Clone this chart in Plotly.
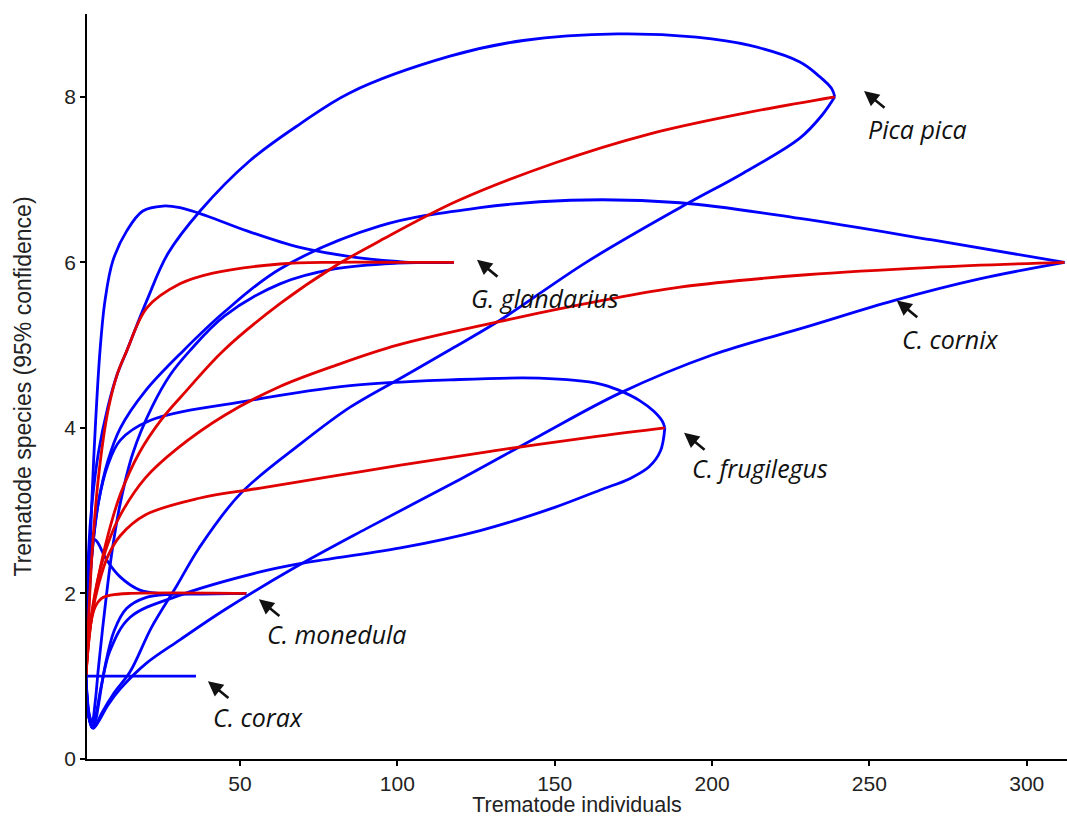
import plotly.graph_objects as go

# ---------------- data ----------------
# Pica pica
pica_red_x = [1, 2, 3, 5, 8, 12, 18, 25, 33, 44.6, 62.7, 80, 94.5, 119, 150, 180, 210, 239]
pica_red_y = [1, 1.45, 1.75, 2.2, 2.7, 3.2, 3.7, 4.1, 4.45, 4.93, 5.5, 5.95, 6.26, 6.74, 7.2, 7.55, 7.8, 8.0]
pica_up_x = [1, 2, 3, 5, 8, 11, 14, 20.4, 27, 37.3, 53.2, 69, 85, 116.7, 140, 170, 195, 212, 227.9, 234, 238, 239]
pica_up_y = [1, 2.6, 3.1, 3.7, 4.25, 4.65, 4.93, 5.54, 6.1, 6.62, 7.23, 7.67, 8.05, 8.49, 8.68, 8.76, 8.72, 8.62, 8.42, 8.25, 8.1, 8.0]
pica_lo_x = [1, 2, 3, 4, 6, 10, 15, 22, 30, 37, 50, 69, 85, 101, 117, 132.6, 160, 189.8, 210, 227.9, 235, 239]
pica_lo_y = [1, 0.55, 0.38, 0.4, 0.55, 0.8, 1.05, 1.6, 2.1, 2.55, 3.2, 3.8, 4.25, 4.6, 4.95, 5.30, 6.0, 6.66, 7.08, 7.50, 7.78, 8.0]

# Garrulus glandarius
glan_red_x = [1, 2, 3, 5, 8, 11, 14, 20.4, 30.9, 41.4, 62.7, 80, 100, 118]
glan_red_y = [1, 1.8, 2.5, 3.4, 4.2, 4.65, 4.93, 5.45, 5.74, 5.87, 5.98, 6.0, 6.0, 6.0]
glan_up_x = [1, 2, 3, 4, 5.5, 7.1, 9.6, 14, 19.1, 25.5, 30.9, 39.5, 52.2, 69, 85, 100, 104, 118]
glan_up_y = [1, 2.2, 3.2, 4.0, 4.93, 5.54, 6.02, 6.38, 6.62, 6.68, 6.66, 6.56, 6.38, 6.18, 6.07, 6.01, 6.0, 6.0]
glan_lo_x = [1, 2, 3, 4, 5, 7, 9.3, 12, 16, 22, 28, 34, 45, 62.7, 80, 100, 118]
glan_lo_y = [1, 0.55, 0.45, 0.7, 1.1, 1.8, 2.5, 3.1, 3.7, 4.25, 4.65, 4.93, 5.35, 5.74, 5.92, 5.99, 6.0]

# Corvus cornix
corn_red_x = [1, 2, 3, 5, 8, 12, 20, 30, 45, 62.7, 80, 100, 136.8, 164, 189.8, 230, 270, 312]
corn_red_y = [1, 1.5, 1.8, 2.2, 2.6, 2.95, 3.4, 3.75, 4.15, 4.5, 4.75, 5.0, 5.32, 5.53, 5.70, 5.85, 5.94, 6.0]
corn_up_x = [1, 2, 3, 5, 8, 12, 20, 31.9, 45, 62.7, 94.5, 126.3, 155, 189.8, 227.9, 270, 312]
corn_up_y = [1, 2.0, 2.5, 3.1, 3.6, 4.0, 4.45, 4.93, 5.4, 5.92, 6.44, 6.66, 6.75, 6.72, 6.53, 6.27, 6.0]
corn_lo_x = [1, 2, 3.3, 5, 8, 12, 20, 30.9, 45, 65.9, 90, 120, 145, 170.7, 200, 230, 258, 285, 312]
corn_lo_y = [1, 0.5, 0.37, 0.45, 0.65, 0.85, 1.15, 1.44, 1.8, 2.28, 2.78, 3.38, 3.9, 4.42, 4.88, 5.22, 5.54, 5.8, 6.0]

# Corvus frugilegus
frug_red_x = [1, 2, 3, 5, 8, 12, 20, 37, 56, 80, 101, 130, 164, 185]
frug_red_y = [1, 1.45, 1.75, 2.1, 2.45, 2.7, 2.95, 3.15, 3.27, 3.42, 3.55, 3.72, 3.9, 4.0]
frug_up_x = [1, 2, 3, 5, 8, 11.9, 21.4, 53, 85, 116.7, 145, 164.5, 170.7, 177, 181.5, 184.2, 185]
frug_up_y = [1, 1.9, 2.5, 3.1, 3.55, 3.85, 4.09, 4.33, 4.51, 4.58, 4.6, 4.53, 4.45, 4.33, 4.2, 4.08, 4.0]
frug_lo_x = [1, 2, 3, 4, 6, 8.7, 15, 31, 56.4, 69, 101, 126.3, 150, 164.5, 174, 180, 183.6, 185]
frug_lo_y = [1, 0.5, 0.4, 0.5, 0.9, 1.31, 1.71, 1.98, 2.26, 2.36, 2.55, 2.76, 3.04, 3.25, 3.39, 3.53, 3.72, 4.0]

# Corvus monedula
mone_red_x = [1, 2, 3, 4, 6, 9, 15, 52]
mone_red_y = [1, 1.5, 1.72, 1.84, 1.94, 1.98, 2.0, 2.0]
mone_up_x = [1, 1.5, 2, 3, 4, 5, 7.7, 11.9, 18.2, 24.6, 52]
mone_up_y = [1, 2.0, 2.5, 2.65, 2.65, 2.6, 2.4, 2.2, 2.04, 2.0, 2.0]
mone_lo_x = [1, 2, 3, 4, 5, 7, 10, 14, 20, 28, 35, 52]
mone_lo_y = [1, 0.5, 0.38, 0.45, 0.65, 1.1, 1.55, 1.82, 1.95, 1.99, 2.0, 2.0]

# Corvus corax
corax_x = [1, 36]
corax_y = [1, 1]

x_ticks = [50, 100, 150, 200, 250, 300]
y_ticks = [0, 2, 4, 6, 8]

labels = ["Pica pica", "G. glandarius", "C. cornix", "C. frugilegus", "C. monedula", "C. corax"]
label_x = [265.4, 147.0, 275.6, 215.2, 80.8, 55.7]
label_y = [7.61, 5.57, 5.07, 3.51, 1.51, 0.51]
arrow_x = [248.3, 125.3, 258.7, 191.1, 56.0, 39.8]
arrow_y = [8.07, 6.03, 5.54, 3.94, 1.93, 0.94]

RED = "#e00000"
BLUE = "#0000ff"

fig = go.Figure()

def add(x, y, color):
    fig.add_trace(go.Scatter(x=x, y=y, mode="lines",
                             line=dict(color=color, width=2.8, shape="spline", smoothing=1.0),
                             showlegend=False, hoverinfo="skip"))

for xs, ys in [(pica_up_x, pica_up_y), (pica_lo_x, pica_lo_y),
               (glan_up_x, glan_up_y), (glan_lo_x, glan_lo_y),
               (corn_up_x, corn_up_y), (corn_lo_x, corn_lo_y),
               (frug_up_x, frug_up_y), (frug_lo_x, frug_lo_y),
               (mone_up_x, mone_up_y), (mone_lo_x, mone_lo_y)]:
    add(xs, ys, BLUE)

for xs, ys in [(pica_red_x, pica_red_y), (glan_red_x, glan_red_y),
               (corn_red_x, corn_red_y), (frug_red_x, frug_red_y),
               (mone_red_x, mone_red_y)]:
    add(xs, ys, RED)

add(corax_x, corax_y, BLUE)

annotations = []
for t, tx, ty, hx, hy in zip(labels, label_x, label_y, arrow_x, arrow_y):
    annotations.append(dict(x=tx, y=ty, xref="x", yref="y", text="<i>%s</i>" % t,
                            showarrow=False, font=dict(family="Open Sans", size=25, color="#111111")))
    annotations.append(dict(x=hx, y=hy, xref="x", yref="y", text="", showarrow=True,
                            ax=22, ay=18, axref="pixel", ayref="pixel",
                            arrowhead=2, arrowsize=1.15, arrowwidth=2.6, arrowcolor="#111111"))

fig.update_layout(
    width=1067, height=817,
    margin=dict(l=87, r=0, t=14, b=58),
    paper_bgcolor="white", plot_bgcolor="white",
    font=dict(family="Liberation Sans", color="#222222"),
    annotations=annotations,
    xaxis=dict(range=[1.37, 312.8], tickvals=x_ticks, showgrid=False, zeroline=False,
               showline=True, linecolor="black", linewidth=1.5,
               ticks="outside", ticklen=5, tickwidth=1.5, tickcolor="black",
               tickfont=dict(size=21, family="Liberation Sans", color="#222222"),
               title=dict(text="Trematode individuals", font=dict(size=21.5, family="Liberation Sans"), standoff=3)),
    yaxis=dict(range=[0, 9], tickvals=y_ticks, showgrid=False, zeroline=False,
               showline=True, linecolor="black", linewidth=1.5,
               ticks="outside", ticklen=5, tickwidth=1.5, tickcolor="black",
               tickfont=dict(size=21, family="Liberation Sans", color="#222222"),
               title=dict(text="Trematode species (95% confidence)", font=dict(size=23, family="Liberation Sans"), standoff=26)),
)

# remove the default 8px page margin so the figure fills the window exactly
fig.write_html("out.html", config={"displayModeBar": False},
               post_script="document.body.style.margin='0';document.body.style.overflow='hidden';")
